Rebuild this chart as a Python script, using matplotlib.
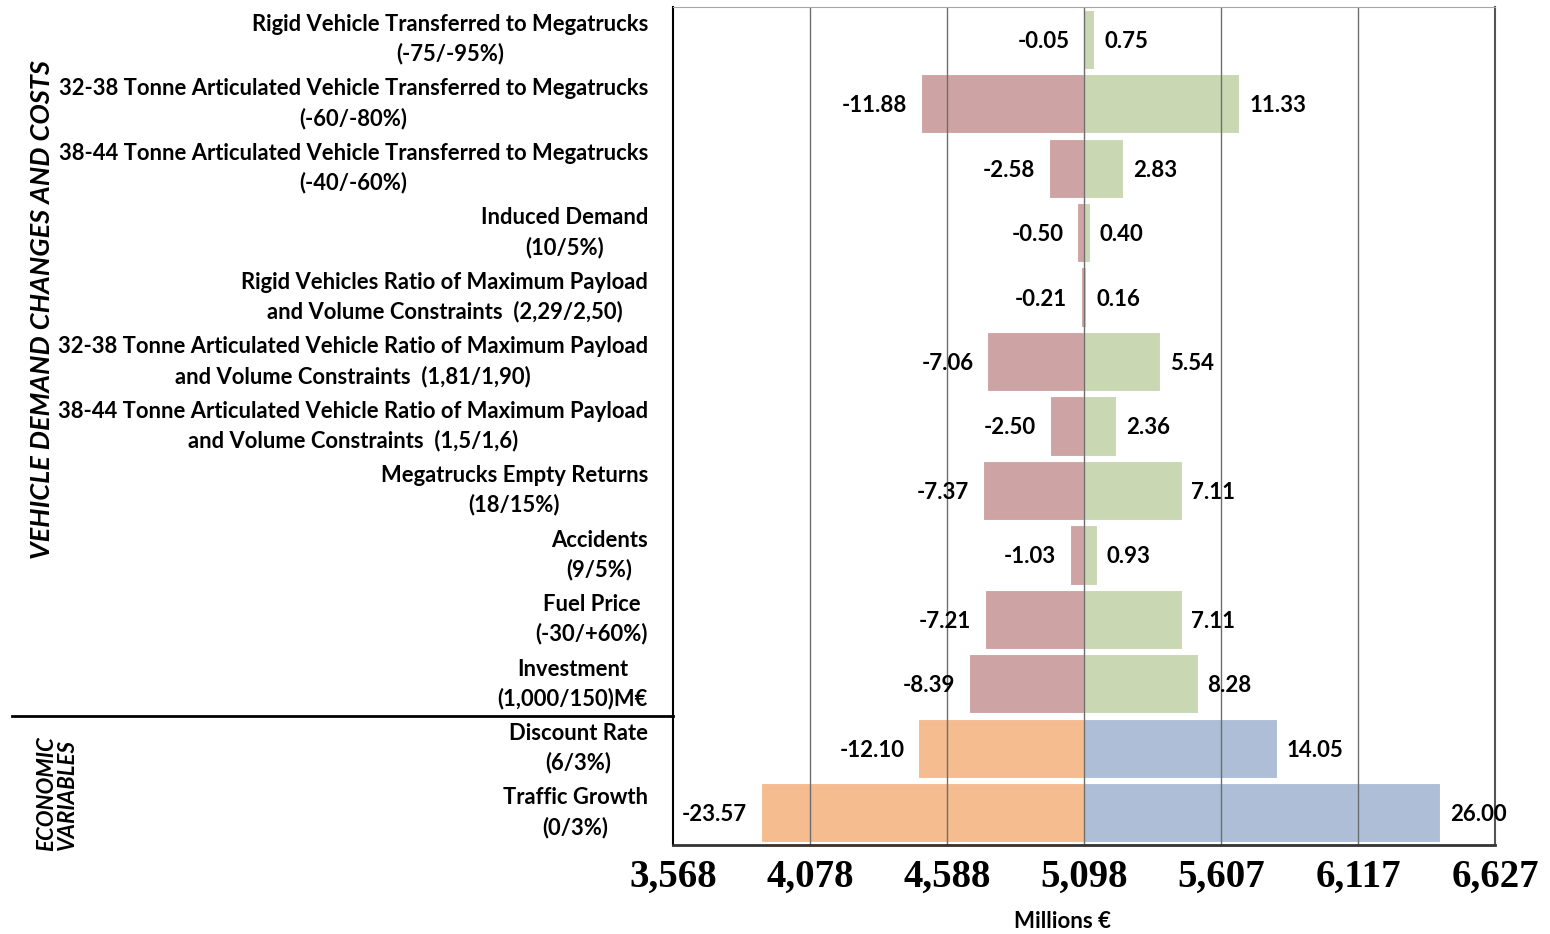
import matplotlib
matplotlib.use('Agg')
import matplotlib.pyplot as plt
import matplotlib.transforms as mtransforms

# scenario labels, top to bottom
labels = [
    'Rigid Vehicle Transferred to Megatrucks\n(-75/-95%)',
    '32-38 Tonne Articulated Vehicle Transferred to Megatrucks\n(-60/-80%)',
    '38-44 Tonne Articulated Vehicle Transferred to Megatrucks\n(-40/-60%)',
    'Induced Demand\n(10/5%)',
    'Rigid Vehicles Ratio of Maximum Payload\nand Volume Constraints  (2,29/2,50)',
    '32-38 Tonne Articulated Vehicle Ratio of Maximum Payload\nand Volume Constraints  (1,81/1,90)',
    '38-44 Tonne Articulated Vehicle Ratio of Maximum Payload\nand Volume Constraints  (1,5/1,6)',
    'Megatrucks Empty Returns\n(18/15%)',
    'Accidents\n(9/5%)',
    'Fuel Price\n(-30/+60%)',
    'Investment\n(1,000/150)M€',
    'Discount Rate\n(6/3%)',
    'Traffic Growth\n(0/3%)',
]
# percent change of NPV (low / high)
low_pct = [-0.05, -11.88, -2.58, -0.50, -0.21, -7.06, -2.50, -7.37, -1.03, -7.21, -8.39, -12.10, -23.57]
high_pct = [0.75, 11.33, 2.83, 0.40, 0.16, 5.54, 2.36, 7.11, 0.93, 7.11, 8.28, 14.05, 26.00]
base = 5098
n_vehicle = 11  # first 11 rows are vehicle demand / costs, rest economic

tick_vals = [3568, 4078, 4588, 5098, 5607, 6117, 6627]
tick_labels = ['3,568', '4,078', '4,588', '5,098', '5,607', '6,117', '6,627']

pink = '#CEA3A3'
green = '#C9D7B2'
orange = '#F4BC8F'
blue = '#ADBED6'

lab_font = 'Lato'

fig = plt.figure(figsize=(15.5, 9.34), dpi=100)
ax = fig.add_axes([673 / 1550, 1 - 845 / 934, (1495 - 673) / 1550, (845 - 7) / 934])

for i in range(len(labels)):
    lo = base * (1 + low_pct[i] / 100)
    hi = base * (1 + high_pct[i] / 100)
    c_lo = pink if i < n_vehicle else orange
    c_hi = green if i < n_vehicle else blue
    ax.barh(i, lo - base, left=base, height=0.92, color=c_lo, edgecolor='white', linewidth=0.8, zorder=1)
    ax.barh(i, hi - base, left=base, height=0.92, color=c_hi, edgecolor='white', linewidth=0.8, zorder=1)
    ax.annotate('%.2f' % low_pct[i], (lo, i), xytext=(-10, 0), textcoords='offset points',
                ha='right', va='center_baseline', fontsize=16, fontweight='bold', family=lab_font)
    ax.annotate('%.2f' % high_pct[i], (hi, i), xytext=(7, 0), textcoords='offset points',
                ha='left', va='center_baseline', fontsize=16, fontweight='bold', family=lab_font)

ax.set_xlim(tick_vals[0], tick_vals[-1])
ax.set_ylim(len(labels) - 0.5, -0.5)

for v in tick_vals[1:-1]:
    ax.axvline(v, color='#6E6E6E', linewidth=1.0, zorder=2)

ax.set_xticks(tick_vals)
ax.set_xticklabels(tick_labels, fontsize=28, fontweight='bold', family='Liberation Serif')
ax.tick_params(axis='x', length=0, pad=10)
ax.set_yticks([])

ax.spines['top'].set_color('#A6A6A6')
ax.spines['left'].set_color('black')
ax.spines['left'].set_linewidth(1.5)
ax.spines['bottom'].set_color('#333333')
ax.spines['bottom'].set_linewidth(2)
ax.spines['right'].set_color('#555555')
ax.spines['right'].set_linewidth(1.5)

# category labels
trans = mtransforms.blended_transform_factory(fig.transFigure, ax.transData)
for i, lab in enumerate(labels):
    ax.text(648 / 1550, i, lab, transform=trans,
            ha='right', va='center', multialignment='center', fontsize=15.8, fontweight='bold',
            family=lab_font, linespacing=1.45)

# separator between groups
ax.plot([12 / 1550, 673 / 1550], [n_vehicle - 0.5, n_vehicle - 0.5], color='black', linewidth=2,
        transform=trans, clip_on=False)

fig.text(42 / 1550, 1 - 310 / 934, 'VEHICLE DEMAND CHANGES AND COSTS', rotation=90, ha='center', va='center',
         fontsize=19.5, fontweight='bold', fontstyle='italic', family=lab_font)
fig.text(57 / 1550, 1 - 794 / 934, 'ECONOMIC\nVARIABLES', rotation=90, ha='center', va='center',
         fontsize=16, fontweight='bold', fontstyle='italic', family=lab_font, linespacing=1.0)

fig.text(1063 / 1550, 1 - 922 / 934, 'Millions €', ha='center', va='center', fontsize=16,
         fontweight='bold', family=lab_font)

fig.savefig('out.png', dpi=100)
